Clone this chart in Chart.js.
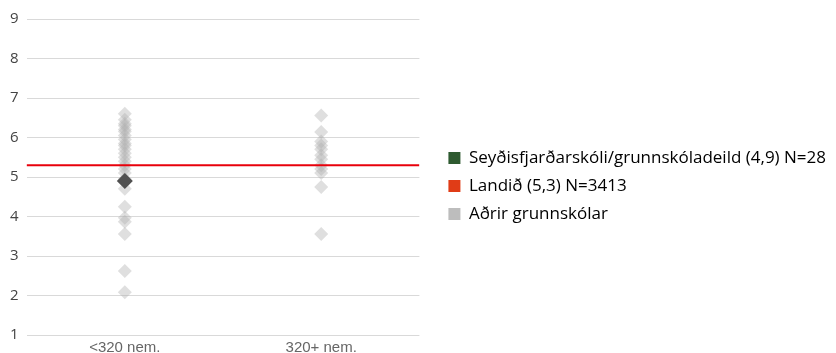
<!DOCTYPE html>
<html>
<head>
<meta charset="utf-8">
<script src="https://cdn.jsdelivr.net/npm/chart.js@4"></script>
<style>
  html, body { margin: 0; padding: 0; background: #fff; }
  #wrap { width: 836px; height: 353px; }
</style>
</head>
<body>
<div id="wrap"><canvas id="chart"></canvas></div>
<script>
// flokkar á x-ás
const categories = ['<320 nem.', '320+ nem.'];
const yTicks = [1, 2, 3, 4, 5, 6, 7, 8, 9];

// aðrir grunnskólar, eftir stærð
const smallSchools = [6.6, 6.45, 6.35, 6.3, 6.2, 6.15, 6.05, 5.95, 5.85, 5.8, 5.7, 5.6, 5.5, 5.4, 5.3, 5.2, 5.1, 4.95, 4.7, 4.25, 3.97, 3.87, 3.56, 2.62, 2.08];
const largeSchools = [6.56, 6.14, 5.9, 5.8, 5.7, 5.55, 5.45, 5.3, 5.2, 5.1, 4.75, 3.56];

// skólinn sjálfur og landið
const schoolValue = 4.9;
const schoolCategory = 0;
const nationalValue = 5.3;

const legendLabels = ['Seyðisfjarðarskóli/grunnskóladeild (4,9) N=28', 'Landið (5,3) N=3413', 'Aðrir grunnskólar'];
const legendColors = ['#2e5a30', '#e03c17', '#bdbdbd'];

const others = [];
smallSchools.forEach(v => others.push({ x: 0.5, y: v }));
largeSchools.forEach(v => others.push({ x: 1.5, y: v }));

const fontFamily = '"Open Sans", Lato, sans-serif';

new Chart(document.getElementById('chart'), {
  type: 'scatter',
  data: {
    datasets: [
      {
        label: legendLabels[0],
        data: [{ x: schoolCategory + 0.5, y: schoolValue }],
        pointStyle: 'rectRot',
        pointRadius: 8,
        backgroundColor: '#505050',
        borderWidth: 0,
        order: 0
      },
      {
        label: legendLabels[1],
        type: 'line',
        data: [{ x: 0, y: nationalValue }, { x: categories.length, y: nationalValue }],
        borderColor: '#e8000b',
        borderWidth: 2,
        pointRadius: 0,
        order: 1
      },
      {
        label: legendLabels[2],
        data: others,
        pointStyle: 'rectRot',
        pointRadius: 7,
        backgroundColor: 'rgba(175,175,175,0.4)',
        borderWidth: 0,
        order: 2
      }
    ]
  },
  options: {
    responsive: true,
    maintainAspectRatio: false,
    animation: false,
    layout: { padding: { top: 19, left: 2, right: 0, bottom: 0 } },
    scales: {
      x: {
        type: 'linear',
        min: 0,
        max: categories.length,
        afterBuildTicks: scale => {
          scale.ticks = categories.map((c, i) => ({ value: i + 0.5 }));
        },
        ticks: {
          callback: v => categories[Math.floor(v)],
          color: '#666',
          font: { family: '"Liberation Sans", Arial, sans-serif', size: 15 },
          padding: -4,
          maxRotation: 0
        },
        grid: { display: false },
        border: { display: false }
      },
      y: {
        min: 1,
        max: 9,
        afterBuildTicks: scale => {
          scale.ticks = yTicks.map(v => ({ value: v }));
        },
        ticks: {
          color: '#444',
          font: { family: fontFamily, size: 15 },
          padding: 8
        },
        grid: { color: '#d9d9d9', lineWidth: 1, drawTicks: false },
        border: { display: false }
      },
      // tómt bil milli grafs og skýringa
      gap: {
        position: 'right',
        min: 1,
        max: 9,
        ticks: { display: false },
        grid: { display: false },
        border: { display: false },
        afterFit: scale => { scale.width = 18; }
      }
    },
    plugins: {
      tooltip: { enabled: false },
      legend: {
        position: 'right',
        align: 'center',
        maxWidth: 440,
        labels: {
          color: '#333',
          font: { family: fontFamily, size: 17 },
          boxWidth: 12,
          boxHeight: 12,
          padding: 11,
          generateLabels: chart => legendLabels.map((text, i) => ({
            text: text,
            fillStyle: legendColors[i],
            strokeStyle: legendColors[i],
            lineWidth: 0,
            datasetIndex: i,
            hidden: false
          }))
        }
      }
    }
  }
});
</script>
</body>
</html>
